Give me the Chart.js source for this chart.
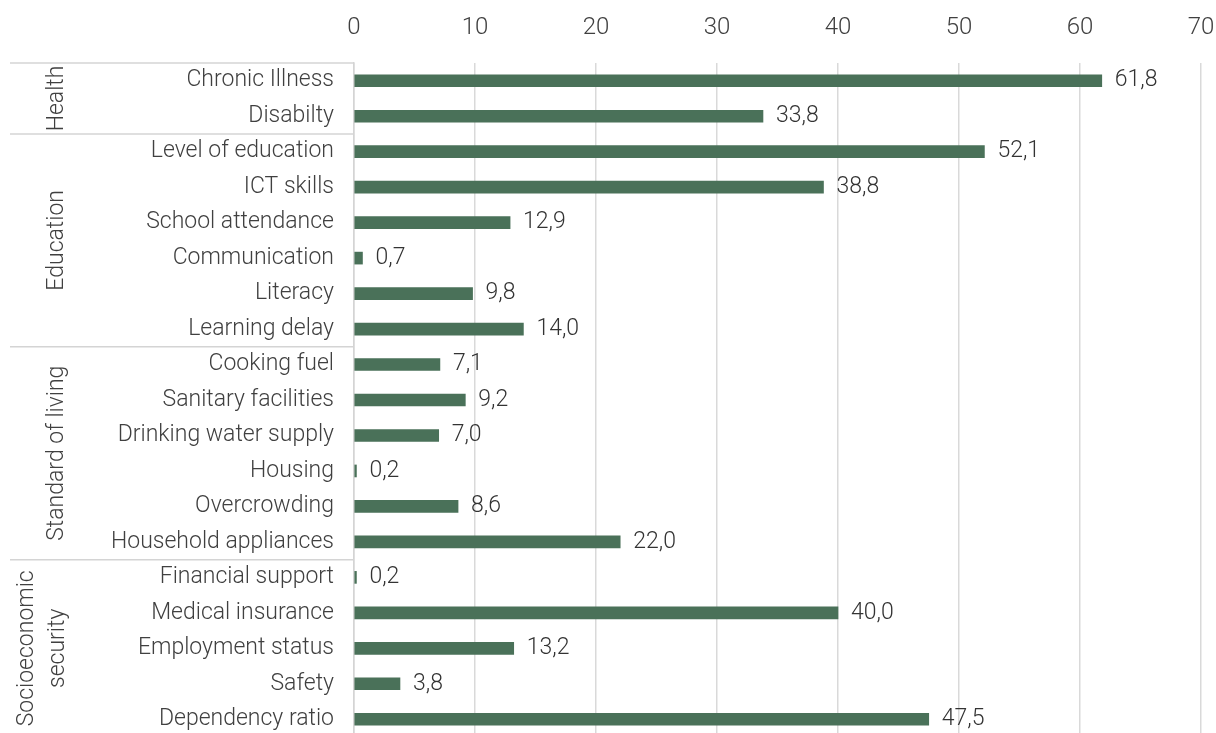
<!DOCTYPE html>
<html lang="en">
  <head>
    <meta charset="UTF-8" />
    <title>Deprivation indicators</title>
    <style>
      html,
      body {
        margin: 0;
        padding: 0;
        background: #ffffff;
        overflow: hidden;
      }
      .chart-container {
        position: relative;
        width: 1216px;
        height: 737px;
      }
    </style>
  </head>
  <body>
    <div class="chart-container">
      <canvas id="mainChart"></canvas>
    </div>
    <script src="https://cdn.jsdelivr.net/npm/chart.js"></script>
    <script>
      // data
      var categories = [
        "Chronic Illness",
        "Disabilty",
        "Level of education",
        "ICT skills",
        "School attendance",
        "Communication",
        "Literacy",
        "Learning delay",
        "Cooking fuel",
        "Sanitary facilities",
        "Drinking water supply",
        "Housing",
        "Overcrowding",
        "Household appliances",
        "Financial support",
        "Medical insurance",
        "Employment status",
        "Safety",
        "Dependency ratio",
      ];
      var values = [
        61.8, 33.8, 52.1, 38.8, 12.9, 0.7, 9.8, 14.0, 7.1, 9.2, 7.0, 0.2, 8.6,
        22.0, 0.2, 40.0, 13.2, 3.8, 47.5,
      ];
      // groups: label lines, first and last category index
      var groupLabels = [
        ["Health"],
        ["Education"],
        ["Standard of living"],
        ["Socioeconomic", "security"],
      ];
      var groupStart = [0, 2, 8, 14];
      var groupEnd = [1, 7, 13, 18];
      var xTicks = [0, 10, 20, 30, 40, 50, 60, 70];

      var FONT = "Roboto";
      var TEXT = "#404040";
      var LINE = "#d4d4d4";

      var groupPlugin = {
        id: "groups",
        afterDraw: function (chart) {
          var ctx = chart.ctx;
          var y = chart.scales.y;
          var left = chart.chartArea.left;
          var half = (y.getPixelForValue(1) - y.getPixelForValue(0)) / 2;
          ctx.save();
          ctx.strokeStyle = LINE;
          ctx.lineWidth = 1.5;
          for (var g = 0; g < groupLabels.length; g++) {
            var top = y.getPixelForValue(groupStart[g]) - half;
            var bottom = y.getPixelForValue(groupEnd[g]) + half;
            ctx.beginPath();
            ctx.moveTo(10, top);
            ctx.lineTo(left, top);
            ctx.stroke();
            var lines = groupLabels[g];
            var mid = (top + bottom) / 2;
            ctx.save();
            ctx.translate(0, mid);
            ctx.rotate(-Math.PI / 2);
            ctx.fillStyle = TEXT;
            ctx.font = "300 23px " + FONT;
            ctx.textAlign = "center";
            ctx.textBaseline = "middle";
            var x0 = lines.length === 1 ? 57 : 27;
            for (var i = 0; i < lines.length; i++) {
              ctx.fillText(lines[i], 0, x0 + i * 31);
            }
            ctx.restore();
          }
          ctx.restore();
        },
      };

      var labelPlugin = {
        id: "valueLabels",
        afterDatasetsDraw: function (chart) {
          var ctx = chart.ctx;
          var meta = chart.getDatasetMeta(0);
          ctx.save();
          ctx.fillStyle = "#333333";
          ctx.font = "300 23px " + FONT;
          ctx.textAlign = "left";
          ctx.textBaseline = "middle";
          meta.data.forEach(function (bar, i) {
            var txt = values[i].toFixed(1).replace(".", ",");
            ctx.fillText(txt, bar.x + 13, bar.y);
          });
          ctx.restore();
        },
      };

      var ctxMain = document.getElementById("mainChart").getContext("2d");
      var mainChart = new Chart(ctxMain, {
        type: "bar",
        data: {
          labels: categories,
          datasets: [
            {
              data: values,
              backgroundColor: "#4a7159",
              borderWidth: 0,
              barThickness: 12,
            },
          ],
        },
        options: {
          indexAxis: "y",
          responsive: true,
          maintainAspectRatio: false,
          animation: false,
          layout: { padding: { top: 0, right: 15, bottom: 0, left: 0 } },
          plugins: {
            legend: { display: false },
            tooltip: { enabled: false },
          },
          scales: {
            x: {
              position: "top",
              min: 0,
              max: 70,
              afterBuildTicks: function (scale) {
                scale.ticks = xTicks.map(function (v) {
                  return { value: v };
                });
              },
              afterFit: function (scale) {
                scale.height = 63;
                scale.paddingLeft = 0;
                scale.paddingRight = 0;
              },
              grid: {
                color: "#d9d9d9",
                lineWidth: 1.5,
                drawTicks: false,
              },
              border: { display: false },
              ticks: {
                color: TEXT,
                font: { family: FONT, size: 24, weight: "300" },
                padding: 21,
              },
            },
            y: {
              afterFit: function (scale) {
                scale.width = 354;
                scale.paddingTop = 0;
                scale.paddingBottom = 0;
              },
              grid: { display: false, drawTicks: false },
              border: { display: true, color: LINE, width: 1.5 },
              ticks: {
                color: TEXT,
                font: { family: FONT, size: 23, weight: "300" },
                padding: 20,
                autoSkip: false,
              },
            },
          },
        },
        plugins: [groupPlugin, labelPlugin],
      });
    </script>
  </body>
</html>
